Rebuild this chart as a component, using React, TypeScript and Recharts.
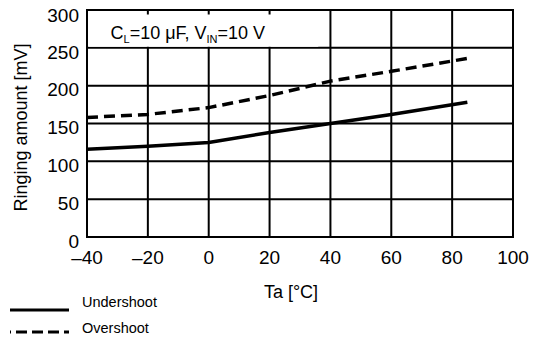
import { CartesianGrid, Label, Legend, Line, LineChart, ReferenceArea, XAxis, YAxis } from 'recharts';

const temps = [-40, -20, 0, 20, 40, 60, 85];
const undershoot = [116, 120, 125, 138, 150, 162, 178];
const overshoot = [158, 162, 171, 187, 206, 219, 236];
const xTicks = [-40, -20, 0, 20, 40, 60, 80, 100];
const yTicks = [0, 50, 100, 150, 200, 250, 300];

const data = temps.map((t, i) => ({ t, under: undershoot[i], over: overshoot[i] }));

const FONT = 'Arial, "Liberation Sans", sans-serif';

const fmtX = (v: number) => (v < 0 ? `\u2013${-v}` : `${v}`);

function Condition(props: any) {
  const { viewBox } = props;
  const x = viewBox.x + 22;
  const y = viewBox.y + 24.5;
  return (
    <text x={x} y={y} fontSize={18} fontFamily={FONT} fill="#000">
      <tspan>C</tspan>
      <tspan fontSize={11} dy={4}>L</tspan>
      <tspan dy={-4}>=10 μF, V</tspan>
      <tspan fontSize={11} dy={4}>IN</tspan>
      <tspan dy={-4}>=10 V</tspan>
    </text>
  );
}

function LegendBox() {
  const rows = [
    { name: 'Undershoot', dash: undefined as string | undefined, ly: 22, ty: 15 },
    { name: 'Overshoot', dash: '11 5', ly: 44, ty: 41 },
  ];
  return (
    <svg width={200} height={56} style={{ display: 'block' }}>
      {rows.map((r) => (
        <g key={r.name}>
          <line x1={10} x2={69} y1={r.ly} y2={r.ly} stroke="#000" strokeWidth={3} strokeDasharray={r.dash} strokeDashoffset={r.dash ? 10 : 0} />
          <text x={82} y={r.ty} fontSize={14.5} fontFamily={FONT} dominantBaseline="middle">
            {r.name}
          </text>
        </g>
      ))}
    </svg>
  );
}

export default function App() {
  return (
    <div style={{ position: 'absolute', left: 0, top: 0, background: '#fff' }}>
      <LineChart width={539} height={338} data={data} margin={{ top: 10, right: 26, bottom: 0, left: 0 }}>
        <CartesianGrid stroke="#000" strokeWidth={2} horizontalValues={yTicks} verticalValues={xTicks} />
        <XAxis
          dataKey="t"
          type="number"
          domain={[-40, 100]}
          ticks={xTicks}
          tickFormatter={fmtX}
          tickLine={false}
          axisLine={{ stroke: '#000', strokeWidth: 2 }}
          tick={{ fill: '#000', fontSize: 19, fontFamily: FONT }}
          tickMargin={8}
          height={101}
        >
          <Label value="Ta [°C]" position="insideTop" offset={48} dx={-9} fill="#000" fontSize={18} fontFamily={FONT} />
        </XAxis>
        <YAxis
          type="number"
          domain={[0, 300]}
          ticks={yTicks}
          tickLine={false}
          axisLine={{ stroke: '#000', strokeWidth: 2 }}
          tick={{ fill: '#000', fontSize: 19, fontFamily: FONT, dy: 4 }}
          width={87}
        >
          <Label value="Ringing amount [mV]" angle={-90} position="center" dx={-23} dy={4} fill="#000" fontSize={18} fontFamily={FONT} />
        </YAxis>
        <ReferenceArea
          x1={-39.5}
          x2={36}
          y1={251.5}
          y2={294}
          fill="#fff"
          fillOpacity={1}
          stroke="none"
          label={<Condition />}
        />
        <ReferenceArea x1={-40} x2={100} y1={0} y2={300} fill="none" stroke="#000" strokeWidth={2} />
        <Line dataKey="under" stroke="#000" strokeWidth={3.5} dot={false} isAnimationActive={false} />
        <Line dataKey="over" stroke="#000" strokeWidth={3.5} strokeDasharray="11 6" dot={false} isAnimationActive={false} />
        <Legend
          layout="vertical"
          align="center"
          verticalAlign="middle"
          content={() => <LegendBox />}
          wrapperStyle={{ left: 0, top: 288, width: 200 }}
        />
      </LineChart>
    </div>
  );
}
